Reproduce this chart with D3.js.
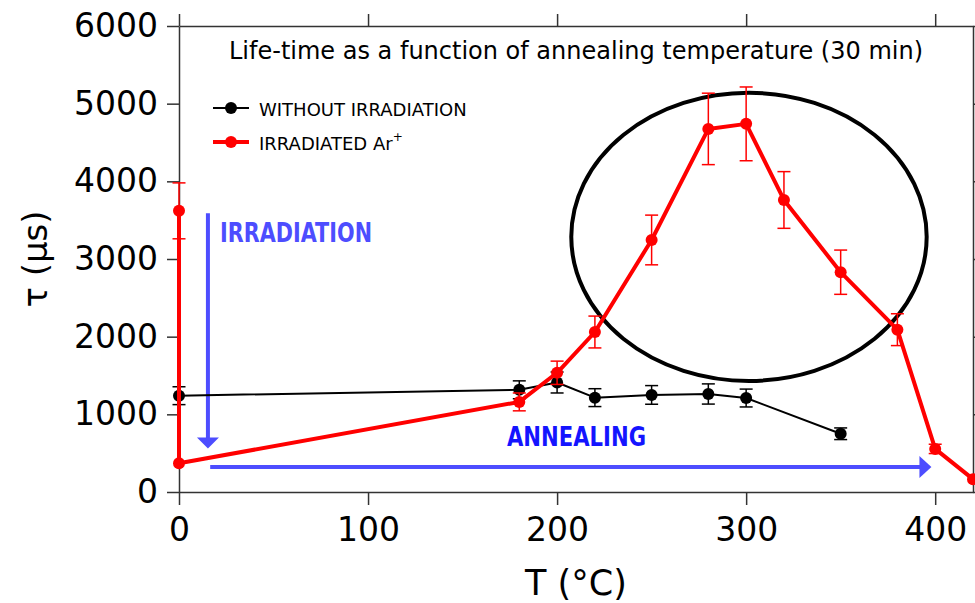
<!DOCTYPE html>
<html>
<head>
<meta charset="utf-8">
<script src="https://cdn.jsdelivr.net/npm/d3@7"></script>
<style>
  html, body { margin: 0; padding: 0; background: #fff; }
  svg { display: block; font-family: "DejaVu Sans", sans-serif; }
</style>
</head>
<body>
<div id="chart"></div>
<script>
// data
const tempBlack = [0, 180, 200, 220, 250, 280, 300, 350];
const tauBlack = [1240, 1316, 1410, 1215, 1250, 1262, 1210, 750];
const errBlack = [115, 115, 135, 115, 120, 130, 115, 75];

const tempRed = [0, 0, 180, 200, 220, 250, 280, 300, 320, 350, 380, 400, 420];
const tauRed = [3620, 370, 1160, 1535, 2060, 3245, 4675, 4740, 3760, 2830, 2090, 555, 165];
const errRed = [360, 0, 115, 150, 205, 320, 460, 475, 365, 285, 205, 60, 0];

const xTicks = [0, 100, 200, 300, 400];
const yTicks = [0, 1000, 2000, 3000, 4000, 5000, 6000];

const legendLabels = ['WITHOUT IRRADIATION', 'IRRADIATED Ar'];
const titleText = 'Life-time as a function of annealing temperature (30 min)';

// annotations, in data units
const ellipseNote = {cx: 301.5, cy: 3285, rx: 94, ry: 1855};
const irradArrow = {x: 15.3, y0: 3590, y1: 560};
const annealArrow = {y: 322, x0: 16.5, x1: 398};

const width = 975;
const height = 603;
const margin = {top: 26, right: 2, bottom: 111, left: 179};

const x = d3.scaleLinear([0, 420], [margin.left, width - margin.right]);
const y = d3.scaleLinear([0, 6000], [height - margin.bottom, margin.top]);

const svg = d3.select('#chart').append('svg')
    .attr('width', width)
    .attr('height', height)
    .attr('viewBox', [0, 0, width, height]);

const axisStyle = (g) => {
  g.selectAll('path, line').attr('stroke', '#333').attr('stroke-width', 1.5);
  g.selectAll('text').attr('fill', '#000').attr('font-size', 33)
      .attr('font-family', '"DejaVu Sans", sans-serif');
};

svg.append('g')
    .attr('transform', `translate(0,${y(0)})`)
    .call(d3.axisBottom(x).tickValues(xTicks).tickSize(13).tickSizeOuter(0).tickPadding(13))
    .call(axisStyle);

svg.append('g')
    .attr('transform', `translate(0,${y(6000)})`)
    .call(d3.axisTop(x).tickValues(xTicks).tickSize(12).tickSizeOuter(0).tickFormat(''))
    .call(axisStyle);

svg.append('g')
    .attr('transform', `translate(${x(0)},0)`)
    .call(d3.axisLeft(y).tickValues(yTicks).tickSize(12).tickSizeOuter(0).tickPadding(9)
        .tickFormat(d3.format('d')))
    .call(axisStyle);

svg.append('g')
    .attr('transform', `translate(${x(420)},0)`)
    .call(d3.axisRight(y).tickValues(yTicks).tickSize(12).tickSizeOuter(0).tickFormat(''))
    .call(axisStyle);

// axis titles
svg.append('text')
    .attr('x', (x(0) + x(420)) / 2)
    .attr('y', 595)
    .attr('text-anchor', 'middle')
    .attr('font-size', 35)
    .text('T (°C)');

svg.append('text')
    .attr('transform', `translate(47,${(y(0) + y(6000)) / 2}) rotate(-90)`)
    .attr('text-anchor', 'middle')
    .attr('font-size', 34)
    .text('τ (μs)');

// title
svg.append('text')
    .attr('x', 576)
    .attr('y', 59)
    .attr('text-anchor', 'middle')
    .attr('font-size', 24)
    .text(titleText);

const blue = '#4d4dff';

// irradiation arrow
svg.append('line')
    .attr('x1', x(irradArrow.x)).attr('x2', x(irradArrow.x))
    .attr('y1', y(irradArrow.y0)).attr('y2', y(irradArrow.y1) - 8)
    .attr('stroke', blue).attr('stroke-width', 4);
svg.append('path')
    .attr('d', `M${x(irradArrow.x) - 11},${y(irradArrow.y1) - 11} L${x(irradArrow.x) + 11},${y(irradArrow.y1) - 11} L${x(irradArrow.x)},${y(irradArrow.y1)} Z`)
    .attr('fill', blue);

svg.append('text')
    .attr('x', 220).attr('y', 242)
    .attr('font-size', 26).attr('font-weight', 'bold')
    .attr('fill', blue)
    .attr('textLength', 152).attr('lengthAdjust', 'spacingAndGlyphs')
    .text('IRRADIATION');

// annealing arrow
svg.append('line')
    .attr('x1', x(annealArrow.x0)).attr('x2', x(annealArrow.x1) - 10)
    .attr('y1', y(annealArrow.y)).attr('y2', y(annealArrow.y))
    .attr('stroke', blue).attr('stroke-width', 4);
svg.append('path')
    .attr('d', `M${x(annealArrow.x1) - 12},${y(annealArrow.y) - 11} L${x(annealArrow.x1) - 12},${y(annealArrow.y) + 11} L${x(annealArrow.x1)},${y(annealArrow.y)} Z`)
    .attr('fill', blue);

svg.append('text')
    .attr('x', 507).attr('y', 446)
    .attr('font-size', 26).attr('font-weight', 'bold')
    .attr('fill', '#1414ff')
    .attr('textLength', 139).attr('lengthAdjust', 'spacingAndGlyphs')
    .text('ANNEALING');

// series
const drawSeries = (temps, taus, errs, color, lineWidth) => {
  const pts = temps.map((t, i) => ({t, v: taus[i], e: errs[i]}));
  const g = svg.append('g');
  g.append('path')
      .datum(pts)
      .attr('fill', 'none')
      .attr('stroke', color)
      .attr('stroke-width', lineWidth)
      .attr('stroke-linejoin', 'round')
      .attr('d', d3.line().x((d) => x(d.t)).y((d) => y(d.v)));

  const eb = g.append('g')
      .attr('stroke', color)
      .attr('stroke-width', 1.5)
      .selectAll('g')
      .data(pts.filter((d) => d.e > 0))
      .join('g');
  eb.append('line')
      .attr('x1', (d) => x(d.t)).attr('x2', (d) => x(d.t))
      .attr('y1', (d) => y(d.v - d.e)).attr('y2', (d) => y(d.v + d.e));
  eb.append('line')
      .attr('x1', (d) => x(d.t) - 6.5).attr('x2', (d) => x(d.t) + 6.5)
      .attr('y1', (d) => y(d.v + d.e)).attr('y2', (d) => y(d.v + d.e));
  eb.append('line')
      .attr('x1', (d) => x(d.t) - 6.5).attr('x2', (d) => x(d.t) + 6.5)
      .attr('y1', (d) => y(d.v - d.e)).attr('y2', (d) => y(d.v - d.e));

  g.append('g')
      .selectAll('circle')
      .data(pts)
      .join('circle')
      .attr('cx', (d) => x(d.t))
      .attr('cy', (d) => y(d.v))
      .attr('r', 6)
      .attr('fill', color);
};

drawSeries(tempBlack, tauBlack, errBlack, '#000', 2);

svg.append('ellipse')
    .attr('cx', x(ellipseNote.cx))
    .attr('cy', y(ellipseNote.cy))
    .attr('rx', x(ellipseNote.rx) - x(0))
    .attr('ry', y(0) - y(ellipseNote.ry))
    .attr('fill', 'none')
    .attr('stroke', '#000')
    .attr('stroke-width', 4);

drawSeries(tempRed, tauRed, errRed, '#ff0000', 4);

// legend
const legend = svg.append('g');
const legendRows = [
  {label: legendLabels[0], color: '#000', w: 2, cy: 108, base: 116},
  {label: legendLabels[1], color: '#ff0000', w: 4, cy: 142, base: 150}
];
legendRows.forEach((r, i) => {
  legend.append('line')
      .attr('x1', 213).attr('x2', 249)
      .attr('y1', r.cy).attr('y2', r.cy)
      .attr('stroke', r.color).attr('stroke-width', r.w);
  legend.append('circle')
      .attr('cx', 231).attr('cy', r.cy).attr('r', 6)
      .attr('fill', r.color);
  const t = legend.append('text')
      .attr('x', 259).attr('y', r.base)
      .attr('font-size', 18)
      .text(r.label);
  if (i === 1) {
    t.append('tspan')
        .attr('dy', -9)
        .attr('font-size', 12)
        .text('+');
  }
});
</script>
</body>
</html>
